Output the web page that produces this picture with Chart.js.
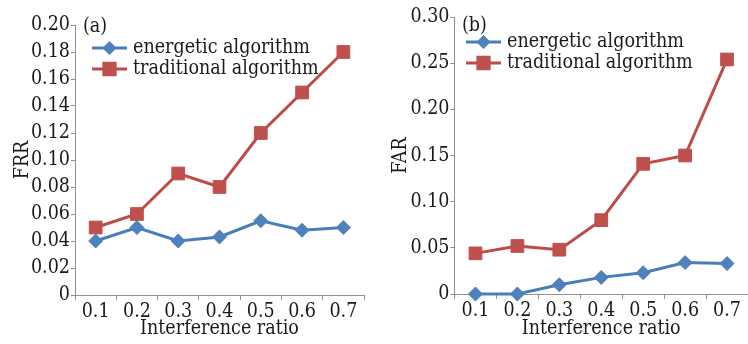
<!DOCTYPE html>
<html><head><meta charset="utf-8">
<script src="https://cdn.jsdelivr.net/npm/chart.js@4"></script>
<style>
html,body{margin:0;padding:0;background:#fff;overflow:hidden;width:748px;height:344px;}
#wa{position:absolute;left:0;top:0;width:374px;height:344px;}
#wb{position:absolute;left:374px;top:0;width:384px;height:344px;}
</style></head><body>
<div id="wa"><canvas id="ca"></canvas></div>
<div id="wb"><canvas id="cb"></canvas></div>
<script>
// ---- data ----
const categories = ['0.1','0.2','0.3','0.4','0.5','0.6','0.7'];
const seriesNames = ['energetic algorithm','traditional algorithm'];
const frrEnergetic = [0.040,0.050,0.040,0.043,0.055,0.048,0.050];
const frrTraditional = [0.050,0.060,0.090,0.080,0.120,0.150,0.180];
const farEnergetic = [0.000,0.000,0.010,0.018,0.023,0.034,0.033];
const farTraditional = [0.044,0.052,0.048,0.080,0.141,0.150,0.254];
const frrTickValues = [0,0.02,0.04,0.06,0.08,0.10,0.12,0.14,0.16,0.18,0.20];
const farTickValues = [0,0.05,0.10,0.15,0.20,0.25,0.30];
const xTitle = 'Interference ratio';

// ---- styles ----
const FAMILY = '"DejaVu Serif Condensed","DejaVu Serif",serif';
const FSIZE = 19.5;
const TEXT = '#1a1a1a';
const AXIS = '#8f8f8f';
const BLUE_LINE = '#4A7EBB', BLUE_PT = '#4F81BD';
const RED_LINE = '#BE4B48', RED_PT = '#C0504D';

const overlay = {
  id: 'overlay',
  afterDraw(chart, args, o) {
    const ctx = chart.ctx;
    ctx.save();
    ctx.font = FSIZE + 'px ' + FAMILY;
    ctx.fillStyle = TEXT;
    ctx.textBaseline = 'middle';
    ctx.textAlign = 'left';
    ctx.fillText(o.label, o.labelX, o.labelY);
    chart.data.datasets.forEach((ds, i) => {
      const y = o.legY + i * o.legGap;
      ctx.strokeStyle = ds.borderColor;
      ctx.lineWidth = ds.borderWidth;
      ctx.beginPath();
      ctx.moveTo(o.legX, y);
      ctx.lineTo(o.legX + 35, y);
      ctx.stroke();
      ctx.fillStyle = ds.pointBackgroundColor;
      ctx.strokeStyle = ds.pointBackgroundColor;
      Chart.helpers.drawPoint(ctx, {pointStyle: ds.pointStyle, radius: ds.legendRadius, rotation: 0, borderWidth: 1}, o.legX + 17.5, y);
      ctx.fillStyle = TEXT;
      ctx.fillText(ds.label, o.legX + 41, y);
    });
    ctx.restore();
  }
};

function makeChart(id, eVals, tVals, yTitle, tickVals, g) {
  const font = {family: FAMILY, size: FSIZE};
  return new Chart(document.getElementById(id), {
    type: 'line',
    data: {
      labels: categories,
      datasets: [
        {label: seriesNames[0], data: eVals, borderColor: BLUE_LINE, borderWidth: 3,
         pointStyle: 'rectRot', pointRadius: 7, pointBackgroundColor: BLUE_PT, pointBorderColor: BLUE_PT,
         pointBorderWidth: 1, legendRadius: 5, tension: 0, clip: false},
        {label: seriesNames[1], data: tVals, borderColor: RED_LINE, borderWidth: 3,
         pointStyle: 'rect', pointRadius: 9, pointBackgroundColor: RED_PT, pointBorderColor: RED_PT,
         pointBorderWidth: 1, legendRadius: 8, tension: 0, clip: false}
      ]
    },
    options: {
      responsive: true, maintainAspectRatio: false, animation: false,
      layout: {padding: g.padding},
      plugins: {legend: {display: false}, tooltip: {enabled: false}, overlay: g.overlay},
      scales: {
        x: {
          type: 'category', offset: true,
          grid: {offset: true, drawOnChartArea: false, drawTicks: true, tickLength: 5, color: AXIS},
          border: {display: true, color: AXIS, width: 1},
          ticks: {font: font, color: TEXT, padding: 0, maxRotation: 0, autoSkip: false},
          title: {display: true, text: xTitle, font: font, color: TEXT, padding: g.xTitlePad},
          afterFit(s) { s.height = g.xHeight; }
        },
        y: {
          min: tickVals[0], max: tickVals[tickVals.length - 1],
          afterBuildTicks(s) { s.ticks = tickVals.map(v => ({value: v})); },
          grid: {drawOnChartArea: false, drawTicks: true, tickLength: 4, color: AXIS},
          border: {display: true, color: AXIS, width: 1},
          ticks: {font: font, color: TEXT, padding: 1,
                  callback: v => (v === 0 ? '0' : Number(v).toFixed(2))},
          title: {display: true, text: yTitle, font: font, color: TEXT, padding: g.yTitlePad},
          afterFit(s) { s.width = g.yWidth; }
        }
      }
    },
    plugins: [overlay]
  });
}

makeChart('ca', frrEnergetic, frrTraditional, 'FRR', frrTickValues, {
  padding: {left: 0, top: 25, right: 7, bottom: 0},
  xHeight: 49, yWidth: 75, xTitlePad: 3.3, yTitlePad: 11,
  overlay: {label: '(a)', labelX: 83, labelY: 27, legX: 92, legY: 48, legGap: 21}
});
makeChart('cb', farEnergetic, farTraditional, 'FAR', farTickValues, {
  padding: {left: 0, top: 17, right: 5, bottom: 0},
  xHeight: 50, yWidth: 80.5, xTitlePad: 3.3, yTitlePad: 15.3,
  overlay: {label: '(b)', labelX: 88, labelY: 26, legX: 92, legY: 42, legGap: 21}
});
</script>
</body></html>
